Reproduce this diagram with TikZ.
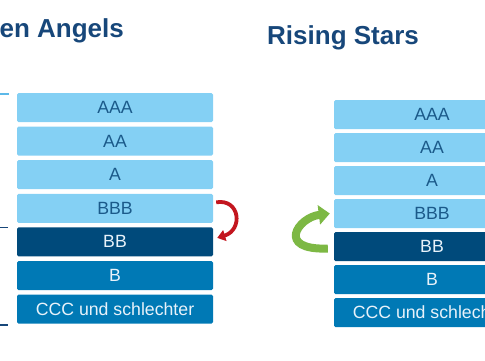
\documentclass[tikz,border=0pt]{standalone}
\usepackage{fontspec}
\setmainfont{Liberation Sans}
\usetikzlibrary{arrows.meta}
\definecolor{lightbox}{HTML}{84D0F4}
\definecolor{navybox}{HTML}{004A7B}
\definecolor{midbox}{HTML}{0079B5}
\definecolor{darktext}{HTML}{1B5A8A}
\definecolor{lighttext}{HTML}{E8F2FA}
\definecolor{titleblue}{HTML}{17477A}
\definecolor{bracketlight}{HTML}{5CB9E9}
\definecolor{arrowred}{HTML}{C3161F}
\definecolor{arrowgreen}{HTML}{7DB844}
\tikzset{
  ratingbox/.style={minimum width=196pt, minimum height=29pt, inner sep=0pt,
    rounded corners=1.5pt, font=\fontsize{17.7}{17.7}\selectfont},
  lightrating/.style={ratingbox, fill=lightbox, text=darktext},
  navyrating/.style={ratingbox, fill=navybox, text=lighttext},
  midrating/.style={ratingbox, fill=midbox, text=lighttext},
  titletext/.style={font=\fontsize{26}{26}\selectfont\bfseries, text=titleblue, inner sep=0pt},
  bracketlightline/.style={draw=bracketlight, line width=1.3pt},
  bracketdarkline/.style={draw=titleblue, line width=1.3pt},
  downarrow/.style={draw=arrowred, line width=3.8pt, -{Triangle[width=11pt,length=8pt]}},
  uparrow/.style={draw=arrowgreen, line width=8pt, -{Triangle[width=19pt,length=11pt]}}
}
\begin{document}
\begin{tikzpicture}[x=1pt,y=-1pt]
\useasboundingbox (0,0) rectangle (485,360);
% titles
\node[titletext, anchor=base east] (ltitle) at (124,37) {Fallen Angels};
\node[titletext, anchor=base west] (rtitle) at (267,44) {Rising Stars};
% left stack
\node[lightrating] (laaa) at (115,107.5) {AAA};
\node[lightrating] (laa)  at (115,141.1) {AA};
\node[lightrating] (la)   at (115,174.7) {A};
\node[lightrating] (lbbb) at (115,208.3) {BBB};
\node[navyrating]  (lbb)  at (115,241.9) {BB};
\node[midrating]   (lb)   at (115,275.5) {B};
\node[midrating]   (lccc) at (115,309.1) {CCC und schlechter};
% right stack
\node[lightrating] (raaa) at (432,114.5) {AAA};
\node[lightrating] (raa)  at (432,147.5) {AA};
\node[lightrating] (ra)   at (432,180.5) {A};
\node[lightrating] (rbbb) at (432,213.5) {BBB};
\node[navyrating]  (rbb)  at (432,246.5) {BB};
\node[midrating]   (rb)   at (432,279.5) {B};
\node[midrating]   (rccc) at (432,312.5) {CCC und schlechter};
% brackets
\coordinate (bl1) at (9,94);
\coordinate (bl2) at (-3,94);
\coordinate (bl3) at (-3,222);
\draw[bracketlightline] (bl1) -- (bl2) -- (bl3);
\coordinate (bd1) at (8,227.5);
\coordinate (bd2) at (-3,227.5);
\coordinate (bd3) at (-3,325);
\coordinate (bd4) at (8,325);
\draw[bracketdarkline] (bd1) -- (bd2) -- (bd3) -- (bd4);
% arrows
\draw[downarrow] ([xshift=3pt,yshift=6pt]lbbb.east) .. controls +(24,-4) and +(26,-8) .. ([xshift=4pt,yshift=4pt]lbb.east);
\draw[uparrow] ([xshift=-6pt,yshift=-2pt]rbb.west) .. controls +(-52,2) and +(-32,4) .. ([xshift=-4pt]rbbb.west);
\end{tikzpicture}
\end{document}
